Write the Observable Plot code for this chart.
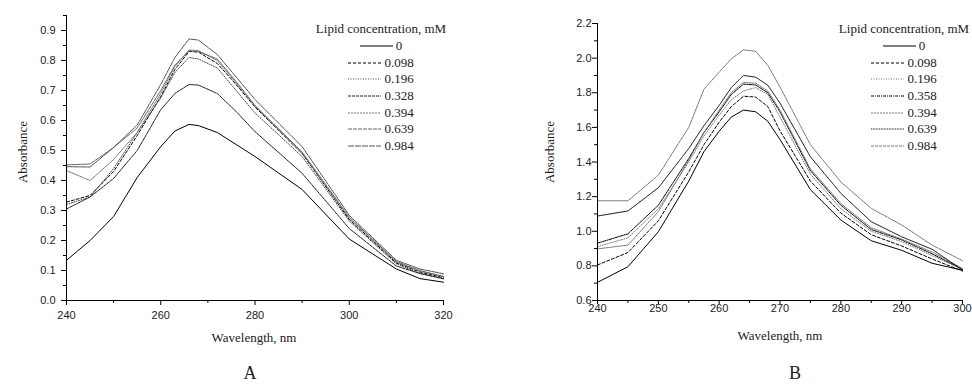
<!DOCTYPE html>
<html><head><meta charset="utf-8">
<script src="https://cdn.jsdelivr.net/npm/d3@7"></script>
<script src="https://cdn.jsdelivr.net/npm/@observablehq/plot@0.6"></script>
<style>
body{margin:0;background:#fff;}
#wrap{position:relative;width:972px;height:385px;overflow:hidden;background:#fff;}
.panel{position:absolute;top:0;}
.panel svg text{font-family:"Liberation Sans",Arial,sans-serif;font-size:11px;fill:#222;}
.alab{position:absolute;white-space:nowrap;font-family:"Liberation Serif","Times New Roman",serif;font-size:13px;line-height:15px;color:#222;}
.legend{position:absolute;top:20px;width:170px;font-family:"Liberation Serif","Times New Roman",serif;font-size:13px;color:#222;}
.legend .ttl{height:18px;line-height:18px;text-align:center;white-space:nowrap;}
.legend .row{display:flex;justify-content:center;align-items:center;height:16.6px;}
.legend .row svg{margin-right:3px;}
.tag{position:absolute;top:363px;width:40px;text-align:center;font-family:"Liberation Serif","Times New Roman",serif;font-size:18px;line-height:20px;color:#222;}
</style></head>
<body><div id="wrap"></div>
<script>
// ---------- Panel A data ----------
const wavelengthA = [240,245,250,255,260,263,266,268,272,276,280,290,300,310,315,320];
const concA = ["0","0.098","0.196","0.328","0.394","0.639","0.984"];
const absA_0     = [0.134,0.200,0.280,0.410,0.513,0.565,0.587,0.583,0.560,0.520,0.480,0.370,0.205,0.105,0.073,0.061];
const absA_0098  = [0.328,0.350,0.430,0.550,0.680,0.770,0.830,0.828,0.790,0.720,0.645,0.490,0.270,0.125,0.095,0.076];
const absA_0196  = [0.320,0.345,0.440,0.560,0.675,0.760,0.810,0.805,0.775,0.700,0.625,0.480,0.265,0.122,0.090,0.074];
const absA_0328  = [0.305,0.345,0.407,0.500,0.636,0.690,0.720,0.718,0.690,0.630,0.563,0.424,0.240,0.115,0.090,0.072];
const absA_0394  = [0.433,0.400,0.470,0.560,0.690,0.780,0.835,0.833,0.800,0.725,0.648,0.492,0.275,0.128,0.098,0.080];
const absA_0639  = [0.452,0.455,0.510,0.575,0.700,0.785,0.832,0.830,0.805,0.730,0.650,0.495,0.278,0.130,0.100,0.080];
const absA_0984  = [0.446,0.445,0.510,0.585,0.720,0.810,0.872,0.868,0.820,0.745,0.670,0.513,0.284,0.134,0.105,0.089];
const xTicksA = [240,260,280,300,320];
const yTicksA = [0.0,0.1,0.2,0.3,0.4,0.5,0.6,0.7,0.8,0.9];

// ---------- Panel B data ----------
const wavelengthB = [240,245,250,255,257.5,260,262,264,266,268,270,275,280,285,290,295,300];
const concB = ["0","0.098","0.196","0.358","0.394","0.639","0.984"];
const absB_0     = [0.705,0.795,0.997,1.290,1.460,1.578,1.660,1.700,1.690,1.635,1.530,1.240,1.065,0.945,0.890,0.815,0.775];
const absB_0098  = [0.805,0.877,1.060,1.343,1.500,1.630,1.720,1.780,1.775,1.720,1.580,1.290,1.105,0.980,0.915,0.840,0.770];
const absB_0196  = [0.911,0.962,1.130,1.400,1.550,1.670,1.760,1.810,1.830,1.790,1.660,1.330,1.130,1.000,0.940,0.860,0.780];
const absB_0358  = [0.931,0.985,1.150,1.420,1.570,1.690,1.790,1.850,1.845,1.800,1.690,1.350,1.150,1.010,0.950,0.870,0.780];
const absB_0394  = [0.898,0.920,1.113,1.410,1.570,1.700,1.800,1.860,1.855,1.810,1.700,1.360,1.160,1.020,0.955,0.880,0.785];
const absB_0639  = [1.088,1.117,1.251,1.478,1.610,1.727,1.830,1.900,1.890,1.843,1.740,1.430,1.219,1.055,0.968,0.896,0.776];
const absB_0984  = [1.176,1.176,1.324,1.600,1.820,1.919,1.996,2.048,2.039,1.958,1.833,1.500,1.285,1.132,1.036,0.920,0.830];
const xTicksB = [240,250,260,270,280,290,300];
const yTicksB = [0.6,0.8,1.0,1.2,1.4,1.6,1.8,2.0,2.2];

// ---------- styles (kept separate from data) ----------
const stylesA = [
  {stroke:"#000", dash:null},
  {stroke:"#000", dash:"3,2"},
  {stroke:"#444", dash:"1,1.5"},
  {stroke:"#222", dash:"3,1"},
  {stroke:"#777", dash:"2,1"},
  {stroke:"#666", dash:"4,1"},
  {stroke:"#555", dash:"6,1"}
];
const stylesB = [
  {stroke:"#000", dash:null},
  {stroke:"#000", dash:"3,2"},
  {stroke:"#777", dash:"1,1.5"},
  {stroke:"#000", dash:"3,1,1,1"},
  {stroke:"#777", dash:"2,1"},
  {stroke:"#222", dash:"1,0.6"},
  {stroke:"#777", dash:"3,1"}
];

const seriesA = [absA_0,absA_0098,absA_0196,absA_0328,absA_0394,absA_0639,absA_0984];
const seriesB = [absB_0,absB_0098,absB_0196,absB_0358,absB_0394,absB_0639,absB_0984];

function lineMarks(wl, series, styles){
  return series.map((vals, k) => Plot.line(
    wl.map((w,i)=>({w, v: vals[i]})),
    {x:"w", y:"v", stroke: styles[k].stroke, strokeWidth:1, strokeDasharray: styles[k].dash ?? undefined}
  ));
}
const fmt1 = d3.format(".1f");
const blank = () => "";

const plotA = Plot.plot({
  width: 480, height: 340,
  marginLeft: 66, marginRight: 37, marginTop: 15, marginBottom: 40,
  x: {domain:[240,320]},
  y: {domain:[0,0.95]},
  marks: [
    ...lineMarks(wavelengthA, seriesA, stylesA),
    Plot.axisY(yTicksA, {tickSize:5, tickPadding:6, tickFormat: fmt1, label:null}),
    Plot.axisY(yTicksA.map(t=>t+0.05), {tickSize:3, tickFormat: blank, label:null}),
    Plot.axisX(xTicksA, {tickSize:5, tickPadding:6, tickFormat: d3.format("d"), label:null}),
    Plot.axisX(xTicksA.slice(0,-1).map(t=>t+10), {tickSize:3, tickFormat: blank, label:null}),
    Plot.ruleX([240], {stroke:"#000"}),
    Plot.ruleY([0], {stroke:"#000"})
  ]
});

const plotB = Plot.plot({
  width: 486, height: 340,
  marginLeft: 111, marginRight: 10, marginTop: 23, marginBottom: 40,
  x: {domain:[240,300]},
  y: {domain:[0.6,2.2]},
  marks: [
    ...lineMarks(wavelengthB, seriesB, stylesB),
    Plot.axisY(yTicksB, {tickSize:5, tickPadding:1, tickFormat: fmt1, label:null}),
    Plot.axisY(yTicksB.slice(0,-1).map(t=>t+0.1), {tickSize:3, tickFormat: blank, label:null}),
    Plot.axisX(xTicksB, {tickSize:4, tickPadding:0, tickFormat: d3.format("d"), label:null}),
    Plot.axisX(xTicksB.slice(0,-1).map(t=>t+5), {tickSize:3, tickFormat: blank, label:null}),
    Plot.ruleX([240], {stroke:"#000"}),
    Plot.ruleY([0.6], {stroke:"#000"})
  ]
});

const wrap = document.getElementById("wrap");
function addPanel(svg, left){
  const d = document.createElement("div");
  d.className = "panel"; d.style.left = left + "px";
  d.appendChild(svg); wrap.appendChild(d);
}
addPanel(plotA, 0);
addPanel(plotB, 486);

function addLabel(txt, cx, cy, rotate){
  const d = document.createElement("div");
  d.className = "alab"; d.textContent = txt;
  d.style.left = cx + "px"; d.style.top = cy + "px";
  d.style.transform = "translate(-50%,-50%)" + (rotate ? " rotate(-90deg)" : "");
  wrap.appendChild(d);
}
addLabel("Absorbance", 22, 152, true);
addLabel("Wavelength, nm", 254, 337, false);
addLabel("Absorbance", 549, 152, true);
addLabel("Wavelength, nm", 780, 335, false);

function addLegend(names, styles, centerX){
  const lg = document.createElement("div");
  lg.className = "legend";
  lg.style.left = (centerX - 85) + "px";
  const t = document.createElement("div");
  t.className = "ttl"; t.textContent = "Lipid concentration, mM";
  lg.appendChild(t);
  names.forEach((n,k)=>{
    const r = document.createElement("div"); r.className = "row";
    const ns = "http://www.w3.org/2000/svg";
    const s = document.createElementNS(ns,"svg");
    s.setAttribute("width","33"); s.setAttribute("height","6");
    const l = document.createElementNS(ns,"line");
    l.setAttribute("x1","0"); l.setAttribute("x2","33"); l.setAttribute("y1","3"); l.setAttribute("y2","3");
    l.setAttribute("stroke", styles[k].stroke); l.setAttribute("stroke-width","1");
    if (styles[k].dash) l.setAttribute("stroke-dasharray", styles[k].dash);
    s.appendChild(l);
    const sp = document.createElement("span"); sp.textContent = n;
    r.appendChild(s); r.appendChild(sp);
    lg.appendChild(r);
  });
  wrap.appendChild(lg);
}
addLegend(concA, stylesA, 381);
addLegend(concB, stylesB, 904);

function addTag(txt, cx){
  const d = document.createElement("div");
  d.className = "tag"; d.style.left = (cx-20)+"px"; d.textContent = txt;
  wrap.appendChild(d);
}
addTag("A", 250);
addTag("B", 795);
</script>
</body></html>
